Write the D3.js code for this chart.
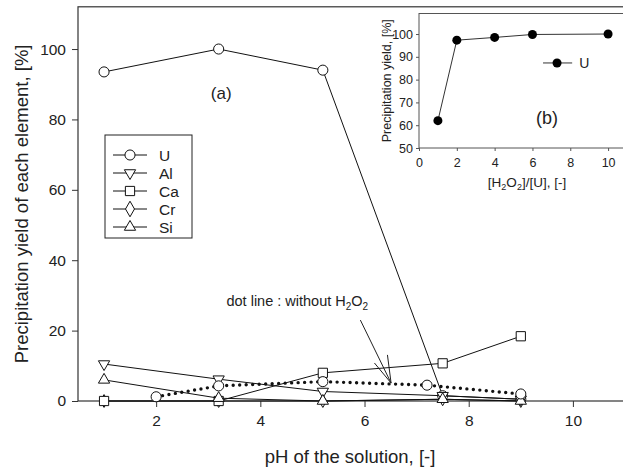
<!DOCTYPE html>
<html>
<head>
<meta charset="utf-8">
<script src="https://cdn.jsdelivr.net/npm/d3@7"></script>
<style>
  body { margin: 0; background: #fff; }
  svg { display: block; font-family: Arial, "Liberation Sans", sans-serif; }
</style>
</head>
<body>
<figure id="chart" style="margin:0"></figure>
<script>
// main plot: precipitation yield vs pH
const phX = [1, 3.2, 5.2, 7.5, 9];
const yieldU = [93.5, 100, 94, 1.5, 0.5];
const yieldAl = [10.5, 6.2, 2.7, 1.5, 0.5];
const yieldCa = [0, 0, 8, 10.7, 18.4];
const yieldCr = [0, 0, 0, 0.5, 0];
const yieldSi = [6, 0.8, 0, 0.5, 0];
// dotted line: U without H2O2
const phNoH2O2 = [2, 3.2, 5.2, 7.2, 9];
const yieldNoH2O2 = [1.2, 4.3, 5.5, 4.5, 2];
const seriesNames = ["U", "Al", "Ca", "Cr", "Si"];
const xTicks = [2, 4, 6, 8, 10];
const yTicks = [0, 20, 40, 60, 80, 100];
// inset (b): yield vs [H2O2]/[U]
const ratioX = [1, 2, 4, 6, 10];
const yieldRatio = [62, 97.3, 98.5, 99.8, 100];
const insetXTicks = [0, 2, 4, 6, 8, 10];
const insetYTicks = [50, 60, 70, 80, 90, 100];

const width = 623, height = 469;

const svg = d3.select("figure#chart")
  .append("svg")
  .attr("width", width)
  .attr("height", height);

// scales
const x = d3.scaleLinear().domain([0.5, 11]).range([78, 625]);
const y = d3.scaleLinear().domain([0, 112]).range([401, 6.8]);

// frame
svg.append("rect")
  .attr("x", x(0.5)).attr("y", y(112))
  .attr("width", x(11) - x(0.5)).attr("height", y(0) - y(112))
  .attr("fill", "none").attr("stroke", "#333").attr("stroke-width", 1.2);

// axes
const xAxis = svg.append("g")
  .attr("transform", "translate(0," + y(0) + ")")
  .call(d3.axisBottom(x).tickValues(xTicks).tickSize(6).tickPadding(8).tickFormat(d3.format("d")));
const yAxis = svg.append("g")
  .attr("transform", "translate(" + x(0.5) + ",0)")
  .call(d3.axisLeft(y).tickValues(yTicks).tickSize(6).tickPadding(6));
[xAxis, yAxis].forEach(g => {
  g.select(".domain").remove();
  g.selectAll("line").attr("stroke", "#333");
  g.selectAll("text").attr("font-size", 15.5).attr("fill", "#222").attr("font-family", "Arial, 'Liberation Sans'");
});

// axis titles
svg.append("text")
  .attr("x", 350).attr("y", 463)
  .attr("text-anchor", "middle").attr("font-size", 18.5).attr("fill", "#222")
  .text("pH of the solution, [-]");
svg.append("text")
  .attr("transform", "translate(28," + ((y(0) + y(112)) / 2) + ")rotate(-90)")
  .attr("text-anchor", "middle").attr("font-size", 18.5).attr("fill", "#222")
  .text("Precipitation yield of each element, [%]");

// symbols
const symbols = {
  U: d3.symbol().type(d3.symbolCircle).size(80),
  Al: d3.symbol().type(d3.symbolTriangle).size(55),
  Ca: d3.symbol().type(d3.symbolSquare).size(85),
  Cr: d3.symbol().type(d3.symbolDiamond).size(48),
  Si: d3.symbol().type(d3.symbolTriangle).size(55)
};
const rotation = { U: 0, Al: 180, Ca: 0, Cr: 0, Si: 0 };
const seriesValues = { U: yieldU, Al: yieldAl, Ca: yieldCa, Cr: yieldCr, Si: yieldSi };

const line = d3.line().x(d => x(d[0])).y(d => y(d[1]));

// Cr sits underneath the others in the original, so draw it first
["Cr", "U", "Al", "Ca", "Si"].forEach(name => {
  const pts = phX.map((p, i) => [p, seriesValues[name][i]]);
  svg.append("path")
    .attr("d", line(pts))
    .attr("fill", "none").attr("stroke", "#111").attr("stroke-width", 1);
  svg.selectAll(null)
    .data(pts)
    .enter()
    .append("path")
    .attr("d", symbols[name]())
    .attr("transform", d => "translate(" + x(d[0]) + "," + y(d[1]) + ")rotate(" + rotation[name] + ")")
    .attr("fill", "#fff").attr("stroke", "#111").attr("stroke-width", 1);
});

// dotted U without H2O2
const dotPts = phNoH2O2.map((p, i) => [p, yieldNoH2O2[i]]);
svg.append("path")
  .attr("d", line(dotPts))
  .attr("fill", "none").attr("stroke", "#111").attr("stroke-width", 3.4)
  .attr("stroke-linecap", "round").attr("stroke-dasharray", "0,6.5");
svg.selectAll(null)
  .data(dotPts)
  .enter()
  .append("path")
  .attr("d", symbols.U())
  .attr("transform", d => "translate(" + x(d[0]) + "," + y(d[1]) + ")")
  .attr("fill", "#fff").attr("stroke", "#111").attr("stroke-width", 1);

// legend
const legend = svg.append("g");
legend.append("rect")
  .attr("x", 105).attr("y", 135).attr("width", 87).attr("height", 103)
  .attr("fill", "#fff").attr("stroke", "#222").attr("stroke-width", 1);
seriesNames.forEach((name, i) => {
  const ly = 155 + i * 18;
  legend.append("line")
    .attr("x1", 113).attr("x2", 147).attr("y1", ly).attr("y2", ly)
    .attr("stroke", "#111").attr("stroke-width", 1);
  legend.append("path")
    .attr("d", (name === "Cr" ? d3.symbol().type(d3.symbolDiamond).size(70) : symbols[name])())
    .attr("transform", "translate(130," + ly + ")rotate(" + rotation[name] + ")")
    .attr("fill", "#fff").attr("stroke", "#111");
  legend.append("text")
    .attr("x", 159).attr("y", ly + 5.5)
    .attr("font-size", 15.5).attr("fill", "#222")
    .text(name);
});

// (a) label
svg.append("text")
  .attr("x", x(3.25)).attr("y", y(85.8))
  .attr("text-anchor", "middle").attr("font-size", 17).attr("fill", "#222")
  .text("(a)");

// annotation
const note = svg.append("text")
  .attr("x", x(3.35)).attr("y", y(27))
  .attr("font-size", 14.5).attr("fill", "#222");
note.append("tspan").text("dot line : without H");
note.append("tspan").attr("font-size", 10).attr("dy", 4).text("2");
note.append("tspan").attr("dy", -4).text("O");
note.append("tspan").attr("font-size", 10).attr("dy", 4).text("2");

const arrow = [[5.92, 23], [6.51, 5.1]];
const arrowHead = [[6.19, 10.8], [6.51, 5.1], [6.44, 13.1]];
svg.append("path").attr("d", line(arrow))
  .attr("fill", "none").attr("stroke", "#222").attr("stroke-width", 1);
svg.append("path").attr("d", line(arrowHead))
  .attr("fill", "none").attr("stroke", "#222").attr("stroke-width", 1);

// ---- inset (b) ----
const xi = d3.scaleLinear().domain([0, 11]).range([419, 627]);
const yi = d3.scaleLinear().domain([50, 109]).range([148, 13.5]);

const inset = svg.append("g");
inset.append("rect")
  .attr("x", xi(0)).attr("y", yi(109))
  .attr("width", xi(11) - xi(0)).attr("height", yi(50) - yi(109))
  .attr("fill", "#fff").attr("stroke", "#555").attr("stroke-width", 1);

const xiAxis = inset.append("g")
  .attr("transform", "translate(0," + yi(50) + ")")
  .call(d3.axisBottom(xi).tickValues(insetXTicks).tickSize(3).tickPadding(7));
const yiAxis = inset.append("g")
  .attr("transform", "translate(" + xi(0) + ",0)")
  .call(d3.axisLeft(yi).tickValues(insetYTicks).tickSize(3).tickPadding(3));
[xiAxis, yiAxis].forEach(g => {
  g.select(".domain").remove();
  g.selectAll("line").attr("stroke", "#555");
  g.selectAll("text").attr("font-size", 12.5).attr("fill", "#222").attr("font-family", "Arial, 'Liberation Sans'");
});

const xiTitle = inset.append("text")
  .attr("x", 527).attr("y", 187)
  .attr("text-anchor", "middle").attr("font-size", 13.5).attr("fill", "#222");
xiTitle.append("tspan").text("[H");
xiTitle.append("tspan").attr("font-size", 9).attr("dy", 3).text("2");
xiTitle.append("tspan").attr("dy", -3).text("O");
xiTitle.append("tspan").attr("font-size", 9).attr("dy", 3).text("2");
xiTitle.append("tspan").attr("dy", -3).text("]/[U], [-]");

inset.append("text")
  .attr("transform", "translate(391," + yi(79.5) + ")rotate(-90)")
  .attr("text-anchor", "middle").attr("font-size", 12.5).attr("fill", "#222")
  .text("Precipitation yield, [%]");

const li = d3.line().x(d => xi(d[0])).y(d => yi(d[1]));
const ratioPts = ratioX.map((r, i) => [r, yieldRatio[i]]);
inset.append("path").attr("d", li(ratioPts))
  .attr("fill", "none").attr("stroke", "#333").attr("stroke-width", 1);
inset.selectAll(null)
  .data(ratioPts)
  .enter()
  .append("circle")
  .attr("cx", d => xi(d[0])).attr("cy", d => yi(d[1])).attr("r", 4.5)
  .attr("fill", "#000");

// inset legend
inset.append("line")
  .attr("x1", xi(6.56)).attr("x2", xi(8.1)).attr("y1", yi(87.3)).attr("y2", yi(87.3))
  .attr("stroke", "#333").attr("stroke-width", 1);
inset.append("circle")
  .attr("cx", xi(7.3)).attr("cy", yi(87.3)).attr("r", 4.5).attr("fill", "#000");
inset.append("text")
  .attr("x", xi(8.47)).attr("y", yi(87.3) + 5)
  .attr("font-size", 14).attr("fill", "#222").text("U");

inset.append("text")
  .attr("x", xi(6.77)).attr("y", yi(60.5))
  .attr("text-anchor", "middle").attr("font-size", 18).attr("fill", "#222")
  .text("(b)");
</script>
</body>
</html>
